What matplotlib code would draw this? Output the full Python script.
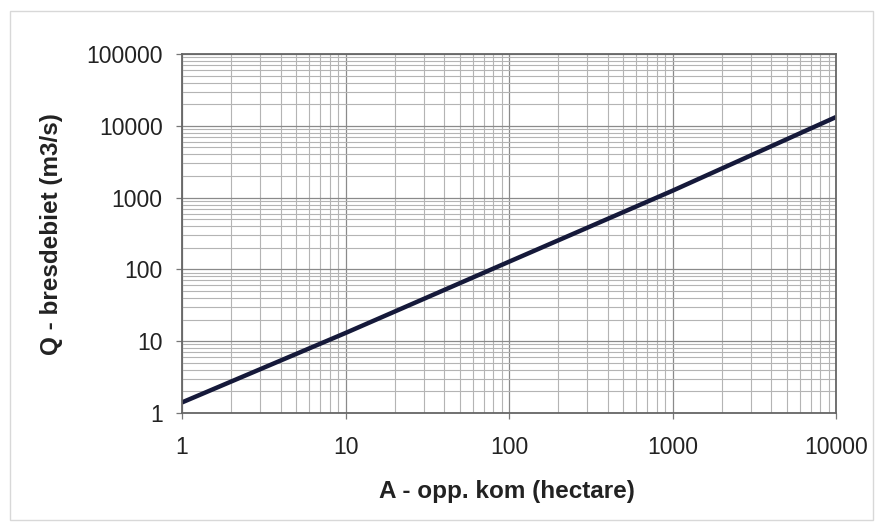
import numpy as np
import matplotlib.pyplot as plt
from matplotlib.patches import Rectangle
from matplotlib.ticker import LogLocator, FixedLocator, NullFormatter

plt.rcParams['font.family'] = ['Liberation Sans', 'DejaVu Sans']

# data
area = [1, 10, 100, 1000, 10000]
flow = [1.4, 13, 128, 1250, 13300]
xticks = [1, 10, 100, 1000, 10000]
yticks = [1, 10, 100, 1000, 10000, 100000]

fig = plt.figure(figsize=(8.84, 5.30), dpi=100)
fig.patches.append(Rectangle((0.011, 0.018), 0.977, 0.962, transform=fig.transFigure,
                             fill=False, edgecolor='#d8d8d8', lw=1))
ax = fig.add_axes([0.206, 0.221, 0.740, 0.677])

ax.plot(area, flow, color='#15193a', lw=3.2, solid_capstyle='butt')
ax.set_xscale('log')
ax.set_yscale('log')
ax.set_xlim(1, 10000)
ax.set_ylim(1, 100000)

ax.xaxis.set_major_locator(FixedLocator(xticks))
ax.yaxis.set_major_locator(FixedLocator(yticks))
ax.set_xticklabels([str(v) for v in xticks])
ax.set_yticklabels([str(v) for v in yticks])
for a in (ax.xaxis, ax.yaxis):
    a.set_minor_locator(LogLocator(base=10, subs=np.arange(2, 10)))
    a.set_minor_formatter(NullFormatter())

ax.grid(True, which='major', color='#8a8a8a', lw=0.9)
ax.grid(True, which='minor', color='#b4b4b4', lw=0.8)
ax.set_axisbelow(True)

ax.tick_params(which='major', direction='out', length=4, width=0.9, color='#777777',
               labelsize=16.5, colors='#222222')
ax.tick_params(axis='x', which='major', pad=13)
ax.tick_params(axis='y', which='major', pad=10)
ax.tick_params(which='minor', length=0)
for s in ax.spines.values():
    s.set_color('#666666')
    s.set_linewidth(1.3)

ax.set_xlabel('A - opp. kom (hectare)', fontsize=17.5, fontweight='bold', color='#222222')
ax.set_ylabel('Q - bresdebiet (m3/s)', fontsize=17.5, fontweight='bold', color='#222222')
ax.xaxis.set_label_coords(0.497, -0.22)
ax.yaxis.set_label_coords(-0.200, 0.499)
ax.xaxis.label.set_va('center')
ax.yaxis.label.set_va('center')

fig.savefig('out.png', dpi=100)
